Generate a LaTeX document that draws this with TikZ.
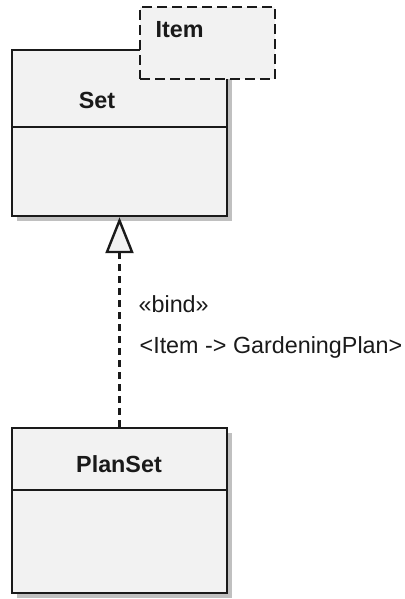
\documentclass[tikz,border=0pt]{standalone}
\usepackage{fontspec}
\setmainfont{Liberation Sans}
\usetikzlibrary{arrows.meta,shadows}
\newcommand\umlsize{\fontsize{17.5}{21}\selectfont}
\begin{document}
\begin{tikzpicture}[x=0.75pt,y=-0.75pt,font=\umlsize,line width=1.8pt]
  \definecolor{uborder}{HTML}{1A1A1A}
  \definecolor{ufill}{HTML}{F2F2F2}
  \definecolor{ushadow}{HTML}{C0C0C0}
  \tikzset{
    classbox/.style={draw=uborder,fill=ufill,minimum width=161.25pt,inner sep=0pt,
      drop shadow={shadow xshift=3.75pt,shadow yshift=-3.75pt,fill=ushadow,opacity=1}},
    classname/.style={font=\umlsize\bfseries,text=uborder},
  }
  \path[use as bounding box] (0,0) rectangle (404,599);
  % classes
  \node[classbox,minimum height=124.5pt] (set) at (119.5,133) {};
  \node[classbox,minimum height=123.75pt] (planset) at (119.5,510.5) {};
  \draw[uborder] ([yshift=-58.5pt]set.north west) -- ([yshift=-58.5pt]set.north east);
  \draw[uborder] ([yshift=-47.25pt]planset.north west) -- ([yshift=-47.25pt]planset.north east);
  \node[classname] (setname) at (97,100) {Set};
  \node[classname] (plansetname) at (119,464) {PlanSet};
  % template parameter
  \node[draw=uborder,fill=ufill,dash pattern=on 7.5pt off 3.75pt,inner sep=0pt,
    minimum width=101.25pt,minimum height=54pt] (param) at (207.5,43) {};
  \node[classname,anchor=west] (paramname) at (150,29.5) {Item};
  % binding
  \draw[uborder,dash pattern=on 5.25pt off 3.75pt,
    -{Triangle[open,length=27pt,width=21pt,fill=ufill]}] (planset.north) -- (set.south);
  \node[anchor=west,text=uborder] (bindlabel) at (133,304) {«bind»};
  \node[anchor=west,text=uborder] (maplabel) at (134,347) {<Item -> GardeningPlan>};
\end{tikzpicture}
\end{document}
